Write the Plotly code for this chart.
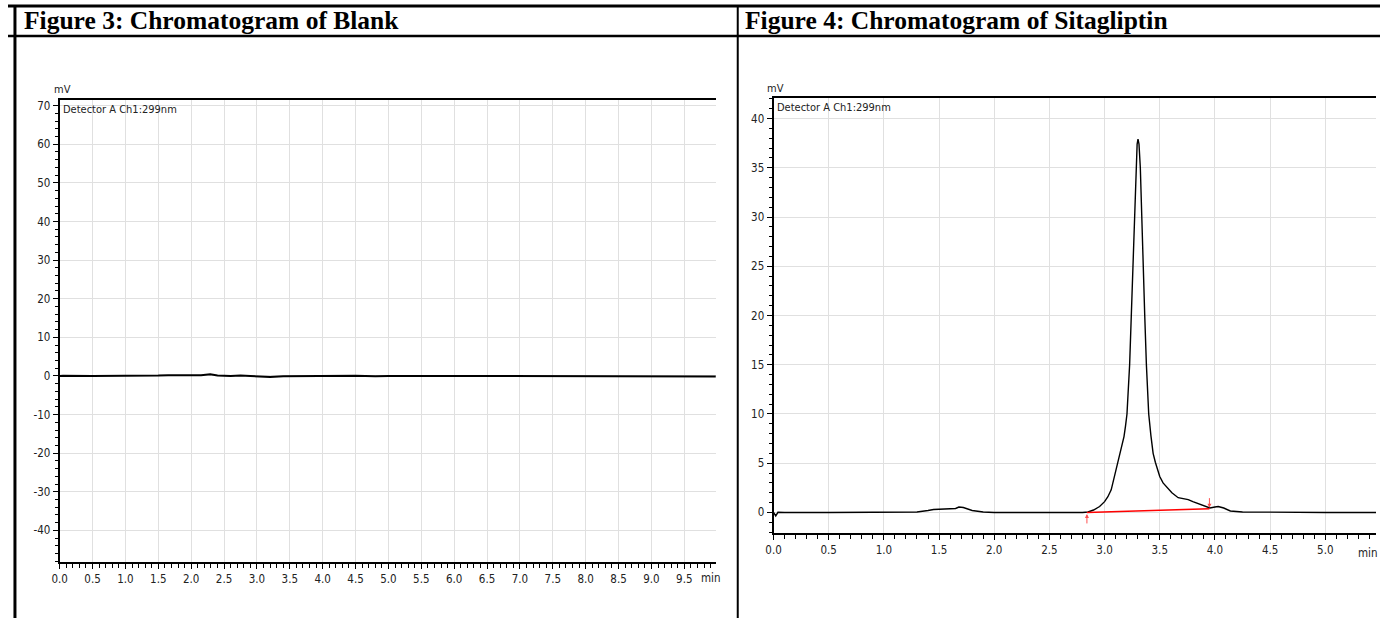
import plotly.graph_objects as go

W, H = 1380, 618

# ---------------- data ----------------
blank_t = [0.0, 0.05, 0.5, 1.0, 1.5, 1.65, 1.8, 2.0, 2.15, 2.29, 2.4, 2.6, 2.75, 2.9,
           3.05, 3.2, 3.4, 4.0, 4.5, 4.8, 5.0, 6.0, 7.0, 8.0, 8.5, 9.0, 9.5, 9.98]
blank_mv = [0.0, 0.05, 0.0, 0.0, 0.1, 0.2, 0.2, 0.15, 0.2, 0.45, 0.1, 0.0, 0.1, 0.0,
            -0.2, -0.3, -0.1, 0.0, 0.05, -0.1, 0.0, 0.0, 0.0, 0.0, -0.1, 0.0, -0.1, -0.15]

sita_t = [0.0, 0.02, 0.04, 0.1, 0.5, 1.0, 1.2, 1.3, 1.4, 1.45, 1.5, 1.6, 1.65, 1.68, 1.72,
          1.8, 1.9, 2.0, 2.2, 2.5, 2.8, 2.85, 2.9, 2.955, 3.0, 3.03, 3.06, 3.082, 3.115,
          3.136, 3.16, 3.176, 3.19, 3.203, 3.227, 3.242, 3.255, 3.267, 3.282, 3.295, 3.303,
          3.312, 3.324, 3.336, 3.352, 3.364, 3.379, 3.40, 3.42, 3.44, 3.46, 3.5, 3.53, 3.56,
          3.61, 3.667, 3.72, 3.758, 3.8, 3.833, 3.9, 3.955, 4.0, 4.03, 4.08, 4.14, 4.25,
          4.5, 5.0, 5.46]
sita_mv = [0.0, -0.35, 0.02, 0.0, 0.0, 0.0, 0.02, 0.05, 0.2, 0.3, 0.32, 0.35, 0.4, 0.55, 0.5,
           0.2, 0.05, 0.0, 0.02, 0.0, 0.0, 0.05, 0.25, 0.6, 1.1, 1.6, 2.3, 3.3, 5.1,
           6.0, 7.0, 7.7, 8.8, 10.0, 15.0, 20.0, 25.0, 30.0, 35.0, 37.4, 37.9,
           37.4, 35.0, 30.0, 25.0, 20.0, 15.0, 10.0, 7.8, 6.0, 5.1, 3.65, 3.0, 2.6,
           2.0, 1.5, 1.35, 1.3, 1.1, 0.95, 0.65, 0.45, 0.55, 0.6, 0.45, 0.15, 0.05,
           0.02, 0.0, 0.0]

# integration baseline (start / end)
base_t = [2.84, 3.95]
base_mv = [0.0, 0.37]

# tick values / labels
left_x_ticks = [0.0, 0.5, 1.0, 1.5, 2.0, 2.5, 3.0, 3.5, 4.0, 4.5, 5.0, 5.5, 6.0, 6.5,
                7.0, 7.5, 8.0, 8.5, 9.0, 9.5]
left_x_labels = ["0.0", "0.5", "1.0", "1.5", "2.0", "2.5", "3.0", "3.5", "4.0", "4.5",
                 "5.0", "5.5", "6.0", "6.5", "7.0", "7.5", "8.0", "8.5", "9.0", "9.5"]
left_y_ticks = [-40, -30, -20, -10, 0, 10, 20, 30, 40, 50, 60, 70]
left_y_labels = ["-40", "-30", "-20", "-10", "0", "10", "20", "30", "40", "50", "60", "70"]
right_x_ticks = [0.0, 0.5, 1.0, 1.5, 2.0, 2.5, 3.0, 3.5, 4.0, 4.5, 5.0]
right_x_labels = ["0.0", "0.5", "1.0", "1.5", "2.0", "2.5", "3.0", "3.5", "4.0", "4.5", "5.0"]
right_y_ticks = [0, 5, 10, 15, 20, 25, 30, 35, 40]
right_y_labels = ["0", "5", "10", "15", "20", "25", "30", "35", "40"]

titles = ["Figure 3: Chromatogram of Blank", "Figure 4: Chromatogram of Sitagliptin"]
detector_label = "Detector A Ch1:299nm"

# ---------------- layout helpers ----------------
def px(x):
    return x / W

def py(y):
    return 1 - y / H

L_left, L_right, L_top, L_bot = 52, 712, 99, 562
R_left, R_right, R_top, R_bot = 770, 1376, 97, 533

narrow = "DejaVu Sans Condensed, Liberation Sans Narrow, Arial Narrow, sans-serif"
tick_font = dict(family=narrow, size=11.5, color="#222")
grid = "#e0e0e0"

fig = go.Figure()

fig.add_trace(go.Scatter(x=blank_t, y=blank_mv, mode="lines",
                         line=dict(color="black", width=2), xaxis="x", yaxis="y",
                         showlegend=False, hoverinfo="x+y"))
fig.add_trace(go.Scatter(x=sita_t, y=sita_mv, mode="lines",
                         line=dict(color="black", width=1.4), xaxis="x2", yaxis="y2",
                         showlegend=False, hoverinfo="x+y"))
fig.add_trace(go.Scatter(x=base_t, y=base_mv, mode="lines",
                         line=dict(color="red", width=1.6), xaxis="x2", yaxis="y2",
                         showlegend=False, hoverinfo="x+y"))

def xaxis(dom, rng, anchor, tv, tt):
    return dict(domain=dom, range=rng, anchor=anchor, tickmode="array",
                tickvals=tv, ticktext=tt, ticks="outside", ticklen=5, tickwidth=1,
                tickcolor="black", showline=True, linecolor="black", linewidth=2,
                mirror=True, showgrid=True, gridcolor=grid, gridwidth=1,
                zeroline=False, tickfont=tick_font,
                minor=dict(tickmode="linear", tick0=0, dtick=0.1, ticks="outside",
                           ticklen=4, tickcolor="black", showgrid=False))

def yaxis(dom, rng, anchor, tv, tt, mdt):
    return dict(domain=dom, range=rng, anchor=anchor, tickmode="array",
                tickvals=tv, ticktext=tt,
                ticks="outside", ticklen=5, tickwidth=1, tickcolor="black",
                showline=True, linecolor="black", linewidth=2,
                showgrid=True, gridcolor=grid, gridwidth=1, zeroline=False,
                tickfont=tick_font,
                minor=dict(tickmode="linear", tick0=0, dtick=mdt, ticks="outside",
                           ticklen=3, tickcolor="black", showgrid=False))

fig.update_layout(
    width=W, height=H, autosize=False,
    margin=dict(l=0, r=0, t=0, b=0),
    paper_bgcolor="white", plot_bgcolor="white",
    xaxis=xaxis([px(L_left), px(L_right)], [0, 9.98], "y", left_x_ticks, left_x_labels),
    yaxis=yaxis([py(L_bot), py(L_top)], [-48.2, 71.5], "x", left_y_ticks, left_y_labels, 2),
    xaxis2=xaxis([px(R_left), px(R_right)], [0, 5.46], "y2", right_x_ticks, right_x_labels),
    yaxis2=yaxis([py(R_bot), py(R_top)], [-2.1, 42.1], "x2", right_y_ticks, right_y_labels, 1),
)

# table lines
shapes = [
    dict(type="line", xref="paper", yref="paper", x0=0, x1=1, y0=py(5), y1=py(5),
         line=dict(color="black", width=3)),
    dict(type="line", xref="paper", yref="paper", x0=0, x1=1, y0=py(35), y1=py(35),
         line=dict(color="black", width=2.5)),
    dict(type="line", xref="paper", yref="paper", x0=px(7), x1=px(7), y0=0, y1=py(5),
         line=dict(color="black", width=3)),
    dict(type="line", xref="paper", yref="paper", x0=px(734), x1=px(734), y0=0, y1=py(5),
         line=dict(color="black", width=2)),
]
fig.update_layout(shapes=shapes)

small = dict(family=narrow, size=11, color="#222")
title_font = dict(family="Liberation Serif, Times New Roman, serif", size=25.5, color="black")

ann = [
    dict(text="<b>" + titles[0] + "</b>", x=px(14), y=py(20), xref="paper", yref="paper",
         xanchor="left", yanchor="middle", showarrow=False, font=title_font),
    dict(text="<b>" + titles[1] + "</b>", x=px(739), y=py(20), xref="paper", yref="paper",
         xanchor="left", yanchor="middle", showarrow=False, font=title_font),
    dict(text="mV", x=px(L_left + 3), y=py(89), xref="paper", yref="paper",
         xanchor="center", yanchor="middle", showarrow=False, font=small),
    dict(text="mV", x=px(R_left + 2), y=py(88), xref="paper", yref="paper",
         xanchor="center", yanchor="middle", showarrow=False, font=small),
    dict(text=detector_label, x=px(L_left + 1), y=py(L_top + 1), xref="paper", yref="paper",
         xanchor="left", yanchor="top", showarrow=False, font=small),
    dict(text=detector_label, x=px(R_left + 1), y=py(R_top + 1), xref="paper", yref="paper",
         xanchor="left", yanchor="top", showarrow=False, font=small),
    dict(text="min", x=px(707), y=py(578), xref="paper", yref="paper",
         xanchor="center", yanchor="middle", showarrow=False, font=tick_font),
    dict(text="min", x=1.0, y=py(553), xref="paper", yref="paper",
         xanchor="right", yanchor="middle", showarrow=False, font=tick_font),
    # integration markers
    dict(x=base_t[0], y=base_mv[0] - 0.15, xref="x2", yref="y2", text="", showarrow=True,
         ax=0, ay=11, arrowhead=2, arrowsize=0.8, arrowwidth=1, arrowcolor="#ff5050"),
    dict(x=base_t[1], y=base_mv[1] + 0.12, xref="x2", yref="y2", text="", showarrow=True,
         ax=0, ay=-11, arrowhead=2, arrowsize=0.8, arrowwidth=1, arrowcolor="#ff5050"),
]
fig.update_layout(annotations=ann)

fig.write_html("out.html")
